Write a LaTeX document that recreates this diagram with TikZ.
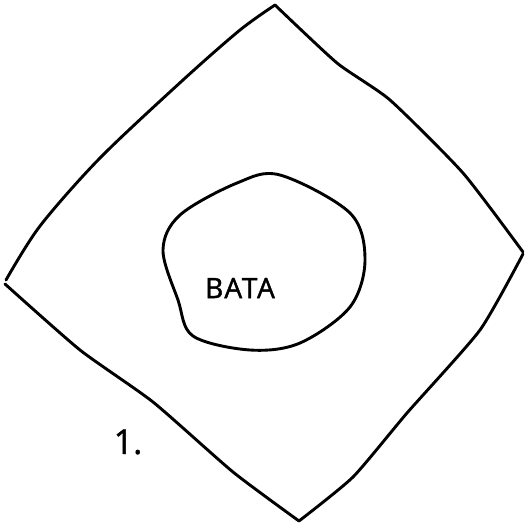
\documentclass[tikz,border=0pt]{standalone}
\usepackage{fontspec}
\usepackage{tikz}
\newfontfamily\handfont[LetterSpace=6,FakeBold=1.5]{Open Sans}
\newfontfamily\numfont[FakeBold=1.5]{Open Sans}

\begin{document}
\begin{tikzpicture}[
    x=1pt, y=-1pt,
    line/.style={line width=2.9pt, line join=round, line cap=round}
]
\useasboundingbox (0,0) rectangle (528,528);

% outer diamond, one side at a time
\draw[line] plot[smooth, tension=0.5] coordinates {(6,280) (40,226) (100,158) (183,80) (240,30) (275,5)};
\draw[line] plot[smooth, tension=0.35] coordinates {(275,5) (337,63) (390,100) (463,173) (523,252)};
\draw[line] plot[smooth, tension=0.35] coordinates {(523,254) (480,330) (407,413) (353,477) (299,521)};
\draw[line] plot[smooth, tension=0.35] coordinates {(299,521) (233,472) (153,402) (80,350) (5,284)};

% inner blob
\draw[line] plot[smooth cycle, tension=0.55] coordinates {(280,175) (350,213) (365,260) (350,307) (300,343) (250,350) (193,336) (178,300) (163,250) (180,215) (237,183)};

\node[font=\fontsize{28}{32}\selectfont\handfont] (bata) at (240,288) {BATA};
\node[font=\fontsize{34}{38}\selectfont\numfont] (num) at (128,442) {1.};

\end{tikzpicture}
\end{document}
